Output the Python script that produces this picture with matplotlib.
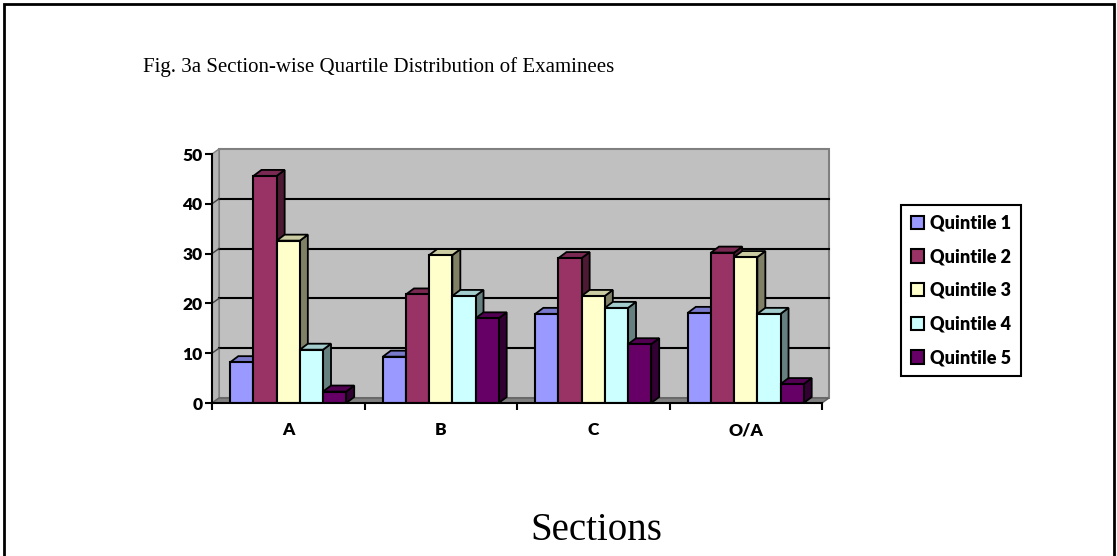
import matplotlib.pyplot as plt
from matplotlib.patches import Polygon, Rectangle, Patch
from matplotlib.colors import to_rgb

sections = ["A", "B", "C", "O/A"]
quintiles = ["Quintile 1", "Quintile 2", "Quintile 3", "Quintile 4", "Quintile 5"]
q1 = [8.2, 9.3, 17.9, 18.1]
q2 = [45.6, 21.8, 29.1, 30.2]
q3 = [32.6, 29.7, 21.5, 29.3]
q4 = [10.7, 21.5, 19.1, 17.9]
q5 = [2.3, 17.0, 11.8, 3.8]
series = [q1, q2, q3, q4, q5]
y_ticks = [0, 10, 20, 30, 40, 50]

colors = ["#9999FF", "#993366", "#FFFFCC", "#CCFFFF", "#660066"]


def shade(c, f):
    r, g, b = to_rgb(c)
    return (r * f, g * f, b * f)


W, H = 1117, 556
fig = plt.figure(figsize=(W / 100, H / 100), dpi=100)

# outer frame
fig.add_artist(Rectangle((3.5 / W, -0.02), 1110 / W, 1.02 - 3.5 / H, transform=fig.transFigure,
                         fill=False, edgecolor="black", linewidth=2))

fig.text(143 / W, 1 - 67 / H, "Fig. 3a Section-wise Quartile Distribution of Examinees",
         family="Liberation Serif", fontsize=15, va="center", ha="left")
fig.text(596 / W, 1 - 531 / H, "Sections", family="Liberation Serif", fontsize=28,
         va="center", ha="center")

ax = fig.add_axes([212 / W, 153 / H, 610 / W, 249 / H])
ax.patch.set_visible(False)
x_lo, x_hi = -0.5, 3.5
y_lo, y_hi = 0, 50
ax.set_xlim(x_lo, x_hi)
ax.set_ylim(y_lo, y_hi)

# pixel -> data conversion for the depth effect
px_x = (x_hi - x_lo) / 610
px_y = (y_hi - y_lo) / 249
wdx, wdy = 7 * px_x, 5 * px_y
bdx, bdy = 8 * px_x, 6 * px_y

# back wall, side wall, floor
ax.add_patch(Polygon([(x_lo + wdx, wdy), (x_hi + wdx, wdy), (x_hi + wdx, y_hi + wdy),
                      (x_lo + wdx, y_hi + wdy)], closed=True, facecolor="#C0C0C0",
                     edgecolor="#808080", linewidth=1.5, zorder=0.5, clip_on=False))
ax.add_patch(Polygon([(x_lo, 0), (x_lo + wdx, wdy), (x_lo + wdx, y_hi + wdy), (x_lo, y_hi)],
                     closed=True, facecolor="#B4B4B4", edgecolor="#808080", linewidth=1,
                     zorder=0.6, clip_on=False))
ax.add_patch(Polygon([(x_lo, 0), (x_hi, 0), (x_hi + wdx, wdy), (x_lo + wdx, wdy)],
                     closed=True, facecolor="#808080", edgecolor="#606060", linewidth=1,
                     zorder=0.7, clip_on=False))
for v in y_ticks[1:-1]:
    ax.plot([x_lo + wdx, x_hi + wdx], [v + wdy, v + wdy], color="black", lw=1.5,
            zorder=0.8, clip_on=False)
    ax.plot([x_lo, x_lo + wdx], [v, v + wdy], color="#404040", lw=1, zorder=0.8, clip_on=False)

bw = 0.152
xs = range(len(sections))
for i, vals in enumerate(series):
    offs = (i - 2) * bw
    c = colors[i]
    for g, h in zip(xs, vals):
        x0 = g + offs - bw / 2
        x1 = x0 + bw
        ax.add_patch(Polygon([(x1, 0), (x1, h), (x1 + bdx, h + bdy), (x1 + bdx, bdy)],
                             closed=True, facecolor=shade(c, 0.5), edgecolor="black",
                             linewidth=1.3, zorder=2 + 2 * i, clip_on=False))
        ax.add_patch(Polygon([(x0, h), (x1, h), (x1 + bdx, h + bdy), (x0 + bdx, h + bdy)],
                             closed=True, facecolor=shade(c, 0.8), edgecolor="black",
                             linewidth=1.3, zorder=2 + 2 * i, clip_on=False))
    ax.bar([g + offs for g in xs], vals, width=bw, color=c, edgecolor="black",
           linewidth=1.5, zorder=3 + 2 * i)

for s in ["top", "right"]:
    ax.spines[s].set_visible(False)
for s in ["left", "bottom"]:
    ax.spines[s].set_linewidth(1.5)
    ax.spines[s].set_zorder(20)

tick_font = dict(family="Lato", weight="heavy", size=12.5)
ax.set_yticks(y_ticks)
ax.set_yticklabels([str(v) for v in y_ticks], fontdict=tick_font)
ax.tick_params(axis="y", length=5, width=1.5, pad=2)
ax.set_xticks(list(xs))
ax.set_xticklabels(sections, fontdict=tick_font)
ax.set_xticks([x_lo + k for k in range(len(sections) + 1)], minor=True)
ax.tick_params(axis="x", which="major", length=0, pad=14)
ax.tick_params(axis="x", which="minor", length=5, width=1.5)

handles = [Patch(facecolor=c, edgecolor="black", linewidth=1.5, label=q)
           for c, q in zip(colors, quintiles)]
leg = fig.legend(handles=handles, loc="center", bbox_to_anchor=(961 / W, 1 - 290.5 / H),
                 frameon=True, fancybox=False, edgecolor="black", framealpha=1,
                 prop=dict(family="Lato", weight="heavy", size=13), labelspacing=0.92,
                 handlelength=0.75, handleheight=0.75, handletextpad=0.35, borderpad=0.55)
leg.get_frame().set_linewidth(1.5)

fig.savefig("out.png", dpi=100)
